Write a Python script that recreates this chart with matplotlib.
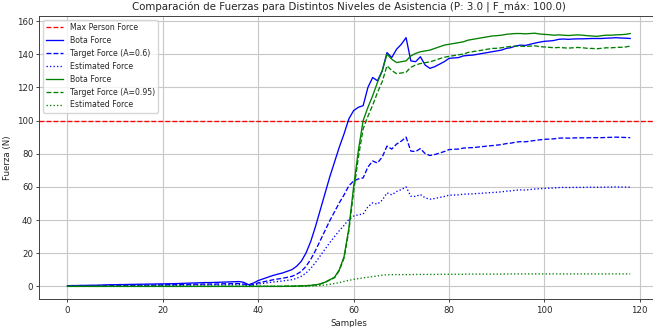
import numpy as np
import matplotlib
matplotlib.use("Agg")
import matplotlib.pyplot as plt

# values, one per sample (0..118)
max_person_force = 100.0

bota_a06 = [
    0.4, 0.5, 0.5, 0.6, 0.6, 0.7, 0.7, 0.8, 0.9, 1.0,
    1.0, 1.1, 1.1, 1.2, 1.2, 1.3, 1.3, 1.4, 1.4, 1.5,
    1.5, 1.6, 1.6, 1.7, 1.8, 1.9, 2.0, 2.1, 2.2, 2.3,
    2.3, 2.4, 2.5, 2.6, 2.7, 2.8, 2.9, 2.4, 1.0, 2.0,
    3.5, 4.5, 5.5, 6.5, 7.3, 8.0, 9.0, 10.0, 12.0, 15.0,
    20, 27, 36, 46, 56, 66, 75, 84, 92, 101,
    106, 108, 109, 120, 126, 124, 130, 141, 138, 143,
    146, 150, 136, 135.5, 138.5, 133.5, 131.5, 132.5, 134, 135.5,
    137.5, 137.8, 138, 139, 139.3, 139.5, 140, 140.5, 141, 141.5,
    142, 142.5, 143.5, 144, 145, 145.5, 145.3, 146, 146.7, 147.3,
    147.8, 148, 148.3, 149, 149.2, 149, 149.2, 149.3, 149.3, 149.4,
    149.5, 149.5, 149.5, 149.7, 149.8, 150, 149.8, 149.7, 149.5,
]
target_a06 = [
    0.2, 0.3, 0.3, 0.4, 0.4, 0.4, 0.4, 0.5, 0.5, 0.6,
    0.6, 0.7, 0.7, 0.7, 0.7, 0.8, 0.8, 0.8, 0.8, 0.9,
    0.9, 1.0, 1.0, 1.0, 1.1, 1.1, 1.2, 1.3, 1.3, 1.4,
    1.4, 1.4, 1.5, 1.6, 1.6, 1.7, 1.7, 1.4, 0.6, 1.2,
    2.1, 2.7, 3.3, 3.9, 4.4, 4.8, 5.4, 6.0, 7.2, 9.0,
    12.0, 16.2, 21.6, 27.6, 33.6, 39.6, 45.0, 50.4, 55.2, 60.6,
    63.6, 64.8, 65.4, 72.0, 75.6, 74.4, 78.0, 84.6, 82.8, 85.8,
    87.6, 90.0, 81.6, 81.3, 83.1, 80.1, 78.9, 79.5, 80.4, 81.3,
    82.5, 82.7, 82.8, 83.4, 83.6, 83.7, 84.0, 84.3, 84.6, 84.9,
    85.2, 85.5, 86.1, 86.4, 87.0, 87.3, 87.2, 87.6, 88.0, 88.4,
    88.7, 88.8, 89.0, 89.4, 89.5, 89.4, 89.5, 89.6, 89.6, 89.6,
    89.7, 89.7, 89.7, 89.8, 89.9, 90.0, 89.9, 89.8, 89.7,
]
estimated_a06 = [
    0.2, 0.2, 0.2, 0.2, 0.2, 0.3, 0.3, 0.3, 0.4, 0.4,
    0.4, 0.4, 0.4, 0.5, 0.5, 0.5, 0.5, 0.6, 0.6, 0.6,
    0.6, 0.6, 0.6, 0.7, 0.7, 0.8, 0.8, 0.8, 0.9, 0.9,
    0.9, 1.0, 1.0, 1.0, 1.1, 1.1, 1.2, 1.0, 0.4, 0.8,
    1.4, 1.8, 2.2, 2.6, 2.9, 3.2, 3.6, 4.0, 4.8, 6.0,
    8.0, 10.8, 14.4, 18.4, 22.4, 26.4, 30.0, 33.6, 36.8, 40.4,
    42.4, 43.2, 43.6, 48.0, 50.4, 49.6, 52.0, 56.4, 55.2, 57.2,
    58.4, 60.0, 54.4, 54.2, 55.4, 53.4, 52.6, 53.0, 53.6, 54.2,
    55.0, 55.1, 55.2, 55.6, 55.7, 55.8, 56.0, 56.2, 56.4, 56.6,
    56.8, 57.0, 57.4, 57.6, 58.0, 58.2, 58.1, 58.4, 58.7, 58.9,
    59.1, 59.2, 59.3, 59.6, 59.7, 59.6, 59.7, 59.7, 59.7, 59.8,
    59.8, 59.8, 59.8, 59.9, 59.9, 60.0, 59.9, 59.9, 59.8,
]

bota_a095 = [0.0] * 46 + [
    0.1, 0.1, 0.2, 0.3,
    0.4, 0.6, 0.9, 1.5, 2.5, 4.0, 5.5, 10, 18, 35,
    60, 82, 100, 108, 115, 123, 130, 140, 137, 135,
    135.5, 136, 139, 140.5, 141.5, 142, 142.5, 143.5, 144.5, 145.5,
    146, 146.5, 147, 147.5, 148.5, 149, 149.5, 150, 150.5, 151,
    151.2, 151.5, 152, 152.3, 152.5, 152.5, 152.3, 152.5, 152.7, 152.2,
    152, 151.8, 151.5, 151.7, 151.5, 151.3, 151.5, 151.7, 151.5, 151.2,
    151, 150.8, 151.2, 151.5, 151.5, 151.7, 151.8, 152, 152.5,
]
target_a095 = [0.0] * 46 + [
    0.1, 0.1, 0.2, 0.3,
    0.4, 0.6, 0.9, 1.4, 2.4, 3.8, 5.2, 9.5, 17.1, 33.3,
    57.0, 77.9, 95.0, 102.6, 109.3, 116.9, 123.5, 133.0, 130.2, 128.3,
    128.7, 129.2, 132.1, 133.5, 134.4, 134.9, 135.4, 136.3, 137.3, 138.2,
    138.7, 139.2, 139.7, 140.1, 141.1, 141.6, 142.0, 142.5, 143.0, 143.5,
    143.6, 143.9, 144.4, 144.7, 144.9, 144.9, 144.7, 144.9, 145.1, 144.6,
    144.4, 144.2, 143.9, 144.1, 143.9, 143.7, 143.9, 144.1, 143.9, 143.6,
    143.5, 143.3, 143.6, 143.9, 143.9, 144.1, 144.2, 144.4, 144.9,
]
estimated_a095 = [0.0] * 50 + [
    0.1, 0.2, 0.3, 0.5, 0.8, 1.2, 1.7, 2.3, 3.0, 3.6,
    4.2, 4.7, 5.1, 5.5, 5.9, 6.3, 6.7, 7.0, 7.1, 7.1,
    7.1, 7.1, 7.1, 7.2, 7.2, 7.2, 7.2, 7.2, 7.3, 7.3,
    7.3, 7.3, 7.3, 7.3, 7.4, 7.4, 7.4, 7.4, 7.4, 7.4,
    7.4, 7.4, 7.5, 7.5, 7.5, 7.5, 7.5, 7.5, 7.5, 7.5,
    7.5, 7.5, 7.5, 7.5, 7.5, 7.5, 7.5, 7.5, 7.5, 7.5,
    7.5, 7.5, 7.5, 7.5, 7.5, 7.5, 7.5, 7.5, 7.5,
]

samples = np.arange(len(bota_a06))

plt.rcParams["font.size"] = 6.2
plt.rcParams["text.color"] = "#262626"
plt.rcParams["axes.labelcolor"] = "#262626"
plt.rcParams["xtick.color"] = "#262626"
plt.rcParams["ytick.color"] = "#262626"

fig = plt.figure(figsize=(6.53, 3.27), dpi=100)
ax = fig.add_axes([0.0602, 0.0847, 0.948, 0.866])

lw = 0.95
ax.axhline(max_person_force, color="r", linestyle="--", linewidth=lw, label="Max Person Force")
ax.plot(samples, bota_a06, color="b", linestyle="-", linewidth=lw, label="Bota Force")
ax.plot(samples, target_a06, color="b", linestyle="--", linewidth=lw, label="Target Force (A=0.6)")
ax.plot(samples, estimated_a06, color="b", linestyle=":", linewidth=lw, label="Estimated Force")
ax.plot(samples, bota_a095, color="g", linestyle="-", linewidth=lw, label="Bota Force")
ax.plot(samples, target_a095, color="g", linestyle="--", linewidth=lw, label="Target Force (A=0.95)")
ax.plot(samples, estimated_a095, color="g", linestyle=":", linewidth=lw, label="Estimated Force")

ax.set_xlim(-5.9, 123.9)
ax.set_ylim(-7.8, 163)
ax.set_xticks(np.arange(0, 121, 20))
ax.set_yticks(np.arange(0, 161, 20))
ax.grid(True, color="#c8c8c8", linewidth=0.8)
ax.tick_params(length=2.5, width=0.6, pad=2)
for s in ax.spines.values():
    s.set_linewidth(0.7)
    s.set_color("#404040")

ax.set_title("Comparación de Fuerzas para Distintos Niveles de Asistencia (P: 3.0 | F_máx: 100.0)",
             fontsize=7.4, pad=4)
ax.set_xlabel("Samples", labelpad=3)
ax.set_ylabel("Fuerza (N)", labelpad=3)
ax.legend(loc="upper left", fontsize=5.6, handlelength=2.2)

fig.savefig("out.png", dpi=100)
